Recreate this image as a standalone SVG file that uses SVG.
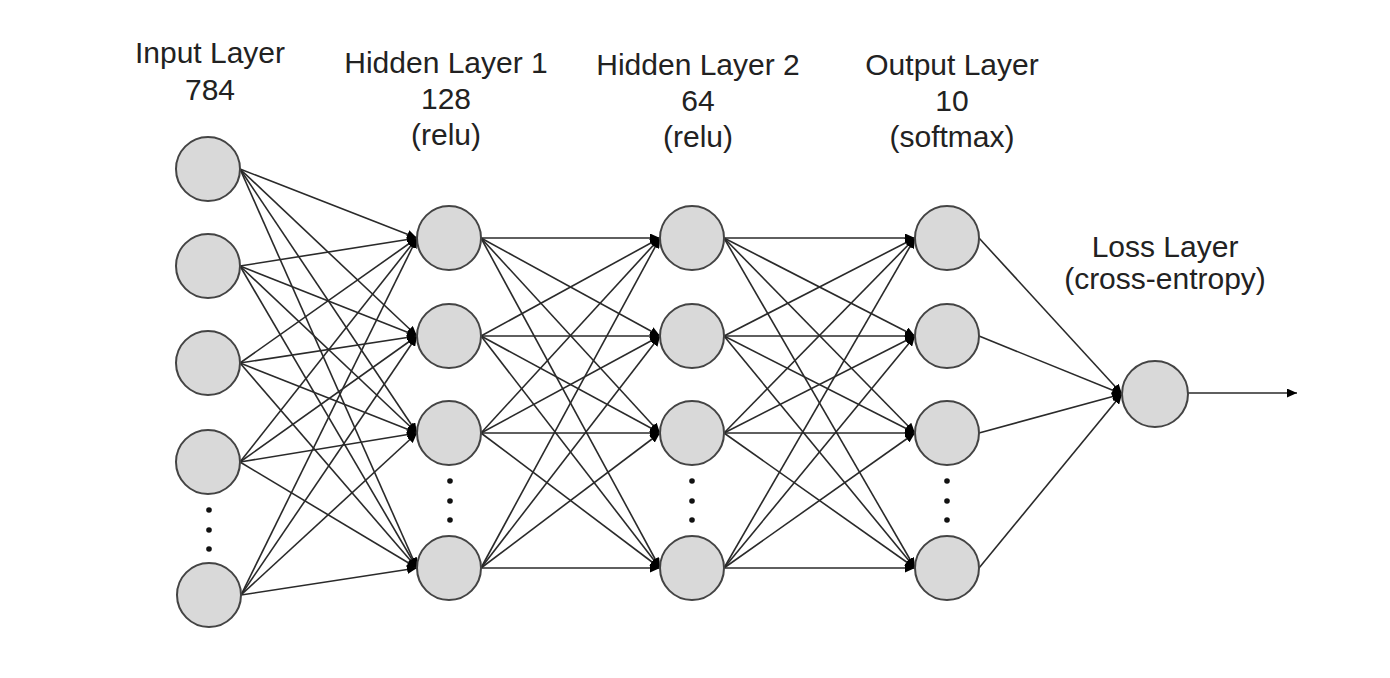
<svg xmlns="http://www.w3.org/2000/svg" width="1390" height="678" viewBox="0 0 1390 678">
<style>
.n{fill:#d9d9d9;stroke:#444;stroke-width:2}
.e{stroke:#2a2a2a;stroke-width:1.6;fill:none;marker-end:url(#ah)}
.t{font-family:"Liberation Sans",Arial,sans-serif;font-size:30px;fill:#222;text-anchor:middle}
.d{fill:#111}
</style>
<defs>
<marker id="ah" markerUnits="userSpaceOnUse" markerWidth="11" markerHeight="9" refX="10" refY="4.5" orient="auto">
<path d="M0,0 L10,4.5 L0,9 z" fill="#000"/>
</marker>
</defs>
<rect width="1390" height="678" fill="#fff"/>
<g id="connectors">
<path class="e" d="M240,169 L417,238"/><path class="e" d="M240,169 L417,336"/><path class="e" d="M240,169 L417,433"/><path class="e" d="M240,169 L417,568"/>
<path class="e" d="M240,266 L417,238"/><path class="e" d="M240,266 L417,336"/><path class="e" d="M240,266 L417,433"/><path class="e" d="M240,266 L417,568"/>
<path class="e" d="M240,363 L417,238"/><path class="e" d="M240,363 L417,336"/><path class="e" d="M240,363 L417,433"/><path class="e" d="M240,363 L417,568"/>
<path class="e" d="M240,462 L417,238"/><path class="e" d="M240,462 L417,336"/><path class="e" d="M240,462 L417,433"/><path class="e" d="M240,462 L417,568"/>
<path class="e" d="M241,595 L417,238"/><path class="e" d="M241,595 L417,336"/><path class="e" d="M241,595 L417,433"/><path class="e" d="M241,595 L417,568"/>
<path class="e" d="M481,238 L660,238"/><path class="e" d="M481,238 L660,336"/><path class="e" d="M481,238 L660,433"/><path class="e" d="M481,238 L660,568"/>
<path class="e" d="M481,336 L660,238"/><path class="e" d="M481,336 L660,336"/><path class="e" d="M481,336 L660,433"/><path class="e" d="M481,336 L660,568"/>
<path class="e" d="M481,433 L660,238"/><path class="e" d="M481,433 L660,336"/><path class="e" d="M481,433 L660,433"/><path class="e" d="M481,433 L660,568"/>
<path class="e" d="M481,568 L660,238"/><path class="e" d="M481,568 L660,336"/><path class="e" d="M481,568 L660,433"/><path class="e" d="M481,568 L660,568"/>
<path class="e" d="M724,238 L915,238"/><path class="e" d="M724,238 L915,336"/><path class="e" d="M724,238 L915,433"/><path class="e" d="M724,238 L915,568"/>
<path class="e" d="M724,336 L915,238"/><path class="e" d="M724,336 L915,336"/><path class="e" d="M724,336 L915,433"/><path class="e" d="M724,336 L915,568"/>
<path class="e" d="M724,433 L915,238"/><path class="e" d="M724,433 L915,336"/><path class="e" d="M724,433 L915,433"/><path class="e" d="M724,433 L915,568"/>
<path class="e" d="M724,568 L915,238"/><path class="e" d="M724,568 L915,336"/><path class="e" d="M724,568 L915,433"/><path class="e" d="M724,568 L915,568"/>
<path class="e" d="M979,238 L1122,394"/><path class="e" d="M979,336 L1122,394"/><path class="e" d="M979,433 L1122,394"/><path class="e" d="M979,568 L1122,394"/>
<path class="e" d="M1188,393 L1297,393"/>
</g>
<g id="input-layer">
<text class="t" x="210" y="63">Input Layer</text>
<text class="t" x="210" y="100">784</text>
<circle class="n" cx="208" cy="169" r="32"/>
<circle class="n" cx="208" cy="266" r="32"/>
<circle class="n" cx="208" cy="363" r="32"/>
<circle class="n" cx="208" cy="462" r="32"/>
<circle class="n" cx="209" cy="595" r="32"/>
<circle class="d" cx="209" cy="510" r="2.8"/><circle class="d" cx="209" cy="530" r="2.8"/><circle class="d" cx="209" cy="549" r="2.8"/>
</g>
<g id="hidden-layer-1">
<text class="t" x="446" y="73">Hidden Layer 1</text>
<text class="t" x="446" y="109">128</text>
<text class="t" x="446" y="145">(relu)</text>
<circle class="n" cx="449" cy="238" r="32"/>
<circle class="n" cx="449" cy="336" r="32"/>
<circle class="n" cx="449" cy="433" r="32"/>
<circle class="n" cx="449" cy="568" r="32"/>
<circle class="d" cx="450" cy="481" r="2.8"/><circle class="d" cx="450" cy="501" r="2.8"/><circle class="d" cx="450" cy="520" r="2.8"/>
</g>
<g id="hidden-layer-2">
<text class="t" x="698" y="75">Hidden Layer 2</text>
<text class="t" x="698" y="111">64</text>
<text class="t" x="698" y="147">(relu)</text>
<circle class="n" cx="692" cy="238" r="32"/>
<circle class="n" cx="692" cy="336" r="32"/>
<circle class="n" cx="692" cy="433" r="32"/>
<circle class="n" cx="692" cy="568" r="32"/>
<circle class="d" cx="692" cy="481" r="2.8"/><circle class="d" cx="692" cy="501" r="2.8"/><circle class="d" cx="692" cy="520" r="2.8"/>
</g>
<g id="output-layer">
<text class="t" x="952" y="75">Output Layer</text>
<text class="t" x="952" y="111">10</text>
<text class="t" x="952" y="147">(softmax)</text>
<circle class="n" cx="947" cy="238" r="32"/>
<circle class="n" cx="947" cy="336" r="32"/>
<circle class="n" cx="947" cy="433" r="32"/>
<circle class="n" cx="947" cy="568" r="32"/>
<circle class="d" cx="947" cy="481" r="2.8"/><circle class="d" cx="947" cy="501" r="2.8"/><circle class="d" cx="947" cy="520" r="2.8"/>
</g>
<g id="loss-layer">
<text class="t" x="1165" y="257">Loss Layer</text>
<text class="t" x="1165" y="289">(cross-entropy)</text>
<circle class="n" cx="1155" cy="394" r="33"/>
</g>
</svg>
